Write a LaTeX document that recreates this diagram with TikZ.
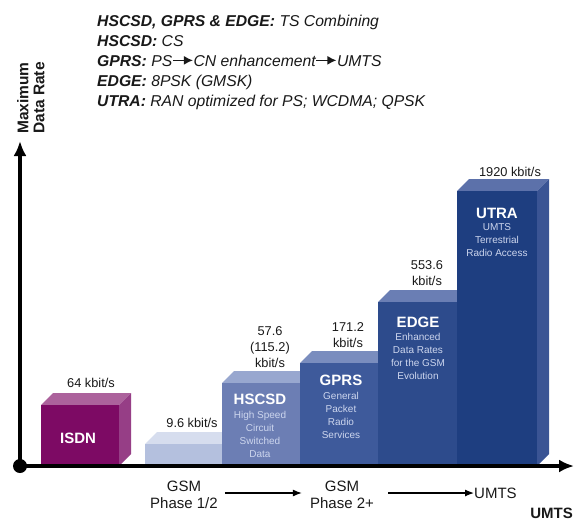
\documentclass[tikz,border=0pt]{standalone}
\usepackage{fontspec}
\setmainfont{Liberation Sans}
\usetikzlibrary{arrows.meta}

% bar colours: front / top / side faces
\definecolor{isdnF}{RGB}{125,10,100}
\definecolor{isdnT}{RGB}{172,98,156}
\definecolor{isdnS}{RGB}{150,62,134}
\definecolor{gsmF}{RGB}{180,192,222}
\definecolor{gsmT}{RGB}{214,221,238}
\definecolor{hscF}{RGB}{108,126,180}
\definecolor{hscT}{RGB}{152,167,207}
\definecolor{gprsF}{RGB}{62,90,155}
\definecolor{gprsT}{RGB}{122,141,190}
\definecolor{edgeF}{RGB}{45,75,140}
\definecolor{edgeT}{RGB}{106,126,180}
\definecolor{utraF}{RGB}{30,62,128}
\definecolor{utraT}{RGB}{92,113,170}
\definecolor{utraS}{RGB}{58,84,148}
\definecolor{subtxt}{RGB}{205,214,238}
\definecolor{ink}{RGB}{25,25,25}

% 3-D bar: #1 left x, #2 right x, #3 top y, #4 front, #5 top, #6 side
\newcommand\barblock[6]{%
  \fill[#5] (#1,#3) -- (#1+12,#3-12) -- (#2+12,#3-12) -- (#2,#3) -- cycle;
  \fill[#6] (#2,#3) -- (#2+12,#3-12) -- (#2+12,454) -- (#2,466) -- cycle;
  \fill[#4] (#1,#3) rectangle (#2,466);
}

\tikzset{
  hdr/.style={anchor=base west, inner sep=0pt, text=ink,
    font=\fontsize{15.7}{18}\selectfont},
  rate/.style={align=center, text=ink, inner sep=0pt,
    font=\fontsize{12.8}{16}\selectfont},
  bartitle/.style={text=white, inner sep=0pt,
    font=\fontsize{15}{18}\selectfont\bfseries},
  barsub/.style={text=subtxt, align=center, inner sep=0pt,
    font=\fontsize{10}{13}\selectfont},
  phase/.style={align=center, text=ink, inner sep=0pt,
    font=\fontsize{15}{17}\selectfont},
  axisline/.style={line width=4pt, -{Latex[length=15pt,width=13pt]}},
  flow/.style={line width=1.2pt, -{Latex[length=9pt,width=7pt]}},
}

% small arrow used inside the legend text
\newcommand\inarrow{\tikz[baseline=0pt]\draw[line width=1.3pt,-{Latex[length=9pt,width=9pt]}] (0,0.36em) -- (20pt,0.36em);}

\begin{document}
\begin{tikzpicture}[x=1pt,y=-1pt]
\useasboundingbox (0,0) rectangle (574,523);
\fill[white] (0,0) rectangle (574,523);

% legend
\node[hdr] (l1) at (97,26) {\textbf{\textit{HSCSD, GPRS \& EDGE:}} \textit{TS Combining}};
\node[hdr] (l2) at (97,46) {\textbf{\textit{HSCSD:}} \textit{CS}};
\node[hdr] (l3) at (97,66) {\textbf{\textit{GPRS:}} \textit{PS\inarrow CN enhancement\inarrow UMTS}};
\node[hdr] (l4) at (97,86) {\textbf{\textit{EDGE:}} \textit{8PSK (GMSK)}};
\node[hdr] (l5) at (97,106) {\textbf{\textit{UTRA:}} \textit{RAN optimized for PS; WCDMA; QPSK}};

% y-axis caption
\node[rotate=90, anchor=north west, align=left, inner sep=0pt, text=ink,
  font=\fontsize{15.5}{16}\selectfont\bfseries] (ylab) at (17,134) {Maximum\\Data Rate};

% bars
\barblock{41}{119}{405}{isdnF}{isdnT}{isdnS}
\barblock{145}{222}{444}{gsmF}{gsmT}{gsmF}
\barblock{222}{300}{383}{hscF}{hscT}{hscF}
\barblock{300}{378}{363}{gprsF}{gprsT}{gprsF}
\barblock{378}{457}{302}{edgeF}{edgeT}{edgeF}
\barblock{457}{537}{191}{utraF}{utraT}{utraS}

% axes
\coordinate (O) at (20,466);
\coordinate (xend) at (574,466);
\coordinate (yend) at (20,141);
\draw[axisline] (O) -- (xend);
\draw[axisline] (O) -- (yend);
\fill (O) circle (7pt);

% rate labels
\node[rate] (r1) at (91,383) {64 kbit/s};
\node[rate] (r2) at (192,423) {9.6 kbit/s};
\node[rate] (r3) at (270,347) {57.6\\(115.2)\\kbit/s};
\node[rate] (r4) at (348,335) {171.2\\kbit/s};
\node[rate] (r5) at (427,273) {553.6\\kbit/s};
\node[rate] (r6) at (510,172) {1920 kbit/s};

% bar captions
\node[bartitle] (t1) at (78,438) {ISDN};
\node[bartitle] (t3) at (260,399) {HSCSD};
\node[barsub] (s3) at (260,434) {High Speed\\Circuit\\Switched\\Data};
\node[bartitle] (t4) at (341,380) {GPRS};
\node[barsub] (s4) at (341,415) {General\\Packet\\Radio\\Services};
\node[bartitle] (t5) at (418,322) {EDGE};
\node[barsub] (s5) at (418,356) {Enhanced\\Data Rates\\for the GSM\\Evolution};
\node[bartitle] (t6) at (497,213) {UTRA};
\node[barsub] (s6) at (497,240) {UMTS\\Terrestrial\\Radio Access};

% evolution path
\node[phase] (p1) at (184,495) {GSM\\Phase 1/2};
\node[phase] (p2) at (342,495) {GSM\\Phase 2+};
\node[phase, anchor=west] (p3) at (474,493) {UMTS};
\draw[flow] ([xshift=7pt]p1.east |- 0,493) -- ([xshift=-8pt]p2.west |- 0,493);
\draw[flow] ([xshift=14pt]p2.east |- 0,493) -- (p3.west);

\node[anchor=east, inner sep=0pt, text=ink, font=\fontsize{15}{18}\selectfont\bfseries] (xlab) at (573,513) {UMTS};
\end{tikzpicture}
\end{document}
